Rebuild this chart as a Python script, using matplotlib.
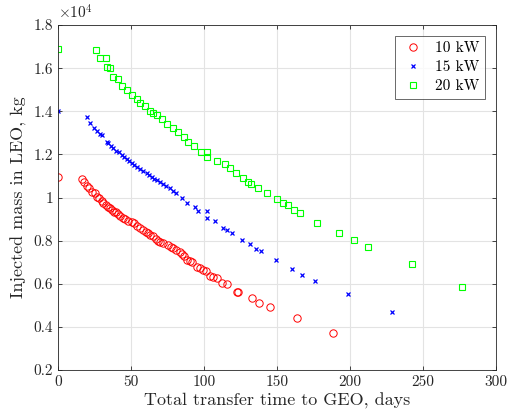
import matplotlib
matplotlib.use("Agg")
import matplotlib.pyplot as plt

# injected mass values are in units of 1e4 kg
t10 = [0, 16.6, 18, 20, 21.5, 23, 25, 26.5, 28, 30, 31, 33, 34.5, 35.6, 37, 38.5,
       40, 41, 42.5, 44.7, 46, 48, 50.5, 52, 54, 56, 58, 60, 61.5, 63, 65, 67,
       68.5, 70, 72, 75, 77, 79, 81, 83.6, 85, 86.5, 88, 90, 92, 95, 97, 99.5,
       101, 104, 106, 108.7, 112, 115.5, 122.8, 123.2, 132.6, 137.7, 145, 163.5, 188]
m10 = [1.097, 1.086, 1.071, 1.055, 1.045, 1.027, 1.02, 1.004, 1.0, 0.985, 0.973,
       0.965, 0.955, 0.95, 0.94, 0.935, 0.934, 0.925, 0.915, 0.904, 0.9, 0.893,
       0.888, 0.88, 0.87, 0.857, 0.85, 0.84, 0.835, 0.826, 0.82, 0.81, 0.8, 0.795,
       0.79, 0.78, 0.77, 0.764, 0.755, 0.749, 0.74, 0.73, 0.71, 0.705, 0.7, 0.679,
       0.675, 0.664, 0.66, 0.636, 0.63, 0.625, 0.602, 0.599, 0.563, 0.56, 0.533,
       0.509, 0.491, 0.44, 0.373]

t15 = [0, 20, 22, 24.9, 26.5, 28.8, 30, 33.3, 34.5, 36, 37.9, 40, 41.5, 43.6, 45,
       47, 48.5, 50.5, 52, 54, 56, 58, 60.7, 62, 64, 66, 68, 69.9, 72, 74, 76.7,
       79, 81, 84.7, 88, 93.8, 96, 101.8, 101.8, 107.5, 113, 116, 119, 125.8,
       131.5, 135.6, 139, 149, 160.5, 167, 176, 198.8, 228.5]
m15 = [1.40, 1.375, 1.347, 1.321, 1.31, 1.295, 1.29, 1.259, 1.252, 1.24, 1.228,
       1.218, 1.21, 1.197, 1.19, 1.18, 1.17, 1.159, 1.15, 1.142, 1.132, 1.125,
       1.112, 1.105, 1.097, 1.088, 1.08, 1.073, 1.065, 1.055, 1.043, 1.032, 1.022,
       0.999, 0.973, 0.955, 0.937, 0.937, 0.906, 0.892, 0.86, 0.85, 0.837, 0.803,
       0.783, 0.761, 0.752, 0.71, 0.67, 0.639, 0.614, 0.551, 0.468]

t20 = [0, 25.8, 28.8, 32.9, 33.3, 35.7, 37.9, 41.3, 43.6, 47, 50.5, 53.9, 56, 59.6,
       63, 65, 67.6, 71, 74.5, 79, 82.4, 86.3, 89.3, 93.2, 97.7, 101.8, 102.3, 109,
       114.4, 117.8, 121.7, 126.5, 130.3, 132.2, 137.2, 142.9, 149.8, 154.3, 157.7,
       161.8, 165.3, 177.2, 192, 202.3, 212.5, 242, 276.7]
m20 = [1.69, 1.684, 1.646, 1.646, 1.607, 1.60, 1.56, 1.55, 1.517, 1.50, 1.475,
       1.455, 1.44, 1.424, 1.401, 1.392, 1.383, 1.363, 1.341, 1.324, 1.305, 1.282,
       1.259, 1.24, 1.213, 1.213, 1.187, 1.169, 1.154, 1.136, 1.115, 1.089, 1.073,
       1.063, 1.043, 1.022, 0.993, 0.973, 0.964, 0.942, 0.93, 0.882, 0.834, 0.802,
       0.77, 0.693, 0.586]

yticks = [0.2, 0.4, 0.6, 0.8, 1.0, 1.2, 1.4, 1.6, 1.8]
ytick_labels = ["0.2", "0.4", "0.6", "0.8", "1", "1.2", "1.4", "1.6", "1.8"]
xticks = [0, 50, 100, 150, 200, 250, 300]

plt.rcParams['font.family'] = 'serif'
plt.rcParams['font.serif'] = ['cmr10']
plt.rcParams['mathtext.fontset'] = 'cm'
plt.rcParams['axes.unicode_minus'] = False

fig = plt.figure(figsize=(5.09, 4.19), dpi=100)
ax = fig.add_axes([0.114, 0.117, 0.861, 0.823])

ax.plot(t10, m10, 'o', ls='none', mfc='none', mec='#ff0000', ms=5.3, mew=0.7, label='10 kW')
ax.plot(t15, m15, 'x', ls='none', color='#0000ff', ms=3.3, mew=0.9, label='15 kW')
ax.plot(t20, m20, 's', ls='none', mfc='none', mec='#00ff00', ms=4, mew=0.8, label='20 kW')

ax.set_xlim(0, 300)
ax.set_ylim(0.2, 1.8)
ax.set_xticks(xticks)
ax.set_yticks(yticks)
ax.set_yticklabels(ytick_labels)
ax.grid(True, color='#e3e3e3', lw=0.8)
ax.set_axisbelow(True)
ax.tick_params(direction='in', length=3, width=0.6, labelsize=11, colors='#262626',
               top=True, right=True)
for s in ax.spines.values():
    s.set_color('#262626')
    s.set_linewidth(0.6)

ax.set_xlabel('Total transfer time to GEO, days', fontsize=13, color='#262626', labelpad=3)
ax.set_ylabel('Injected mass in LEO, kg', fontsize=13, color='#262626', labelpad=5)
ax.text(0.0, 1.01, r'$\times 10^4$', transform=ax.transAxes, fontsize=11,
        color='#262626', va='bottom', ha='left')

leg = ax.legend(loc='upper right', fontsize=11, frameon=True, fancybox=False,
                edgecolor='#262626', borderpad=0.35, handletextpad=0.7, handlelength=1.6,
                labelspacing=0.35, borderaxespad=0, bbox_to_anchor=(0.975, 0.968))
leg.get_frame().set_linewidth(0.6)

fig.savefig('out.png', dpi=100)
